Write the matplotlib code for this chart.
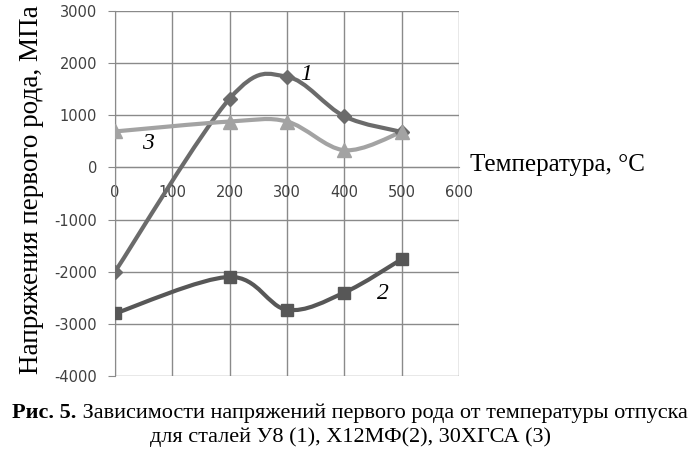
import numpy as np
import matplotlib
matplotlib.use("Agg")
import matplotlib.pyplot as plt
from matplotlib.path import Path
from matplotlib.patches import PathPatch

plt.rcParams['axes.unicode_minus'] = False

# temperature of tempering, C
temps = [0, 200, 300, 400, 500]

# stresses, MPa
u8 = [-2000, 1320, 1740, 980, 680]          # 1
x12mf = [-2800, -2100, -2730, -2400, -1760]  # 2
hgsa30 = [690, 880, 880, 330, 680]           # 3

xticks = [0, 100, 200, 300, 400, 500, 600]
yticks = [-4000, -3000, -2000, -1000, 0, 1000, 2000, 3000]


def smooth_path(xs, ys):
    # excel-like smoothed line: cubic bezier through the points
    p = np.column_stack([xs, ys]).astype(float)
    n = len(p)
    verts = [p[0]]
    codes = [Path.MOVETO]
    for i in range(n - 1):
        p0 = p[i - 1] if i > 0 else p[i]
        p3 = p[i + 2] if i + 2 < n else p[i + 1]
        c1 = p[i] + (p[i + 1] - p0) / 6.0
        c2 = p[i + 1] - (p3 - p[i]) / 6.0
        verts += [c1, c2, p[i + 1]]
        codes += [Path.CURVE4] * 3
    return Path(verts, codes)


def add_series(ax, xs, ys, color, marker, ms):
    patch = PathPatch(smooth_path(xs, ys), facecolor='none', edgecolor=color,
                      linewidth=3, zorder=3, capstyle='round')
    ax.add_patch(patch)
    ax.plot(xs, ys, ls='none', marker=marker, ms=ms, color=color, zorder=4)


fig = plt.figure(figsize=(7, 4.51), dpi=100)
ax = fig.add_axes([115 / 700, 1 - 376 / 451, (459 - 115) / 700, (376 - 11) / 451])

add_series(ax, temps, u8, '#6b6b6b', 'D', 7)
add_series(ax, temps, x12mf, '#575757', 's', 9)
add_series(ax, temps, hgsa30, '#a3a3a3', '^', 9.5)

ax.set_xlim(0, 600)
ax.set_ylim(-4000, 3000)
ax.set_xticks(xticks)
ax.set_yticks(yticks)
ax.grid(True, color='#8a8a8a', linewidth=1, zorder=0)
ax.set_axisbelow(True)

for s in ['top', 'right']:
    ax.spines[s].set_visible(False)
ax.spines['left'].set_position(('data', 0))
ax.spines['bottom'].set_position(('data', 0))
ax.spines['left'].set_color('#8a8a8a')
ax.spines['bottom'].set_color('#8a8a8a')

ax.tick_params(axis='y', length=5, color='#8a8a8a', labelsize=10.5, labelcolor='#404040', pad=8)
ax.tick_params(axis='x', length=0, labelsize=10.5, labelcolor='#404040', pad=13)

serif = 'Liberation Serif'
fig.text(470 / 700, 1 - 165 / 451, 'Температура, °C', family=serif, fontsize=18,
         ha='left', va='center')
fig.text(32 / 700, 1 - 190 / 451, 'Напряжения первого рода, МПа', family=serif,
         fontsize=19.5, rotation=90, ha='center', va='center')

# curve numbers
ax.text(333, 1790, '1', family=serif, style='italic', fontsize=17, ha='center', va='center')
ax.text(467, -2420, '2', family=serif, style='italic', fontsize=17, ha='center', va='center')
ax.text(57, 460, '3', family=serif, style='italic', fontsize=17, ha='center', va='center')

# caption
fig.canvas.draw()
r = fig.canvas.get_renderer()
line1_bold = 'Рис. 5.'
line1 = ' Зависимости напряжений первого рода от температуры отпуска'
t1 = fig.text(0, 1 - 413 / 451, line1_bold, family=serif, fontsize=16, weight='bold',
              va='center')
t2 = fig.text(0, 1 - 413 / 451, line1, family=serif, fontsize=16, va='center')
w1 = t1.get_window_extent(r).width
w2 = t2.get_window_extent(r).width
x0 = (700 - w1 - w2) / 2
t1.set_x(x0 / 700)
t2.set_x((x0 + w1) / 700)
fig.text(0.5, 1 - 437 / 451, 'для сталей У8 (1), Х12МФ(2), 30ХГСА (3)', family=serif,
         fontsize=16, ha='center', va='center')

fig.savefig('out.png', dpi=100)
